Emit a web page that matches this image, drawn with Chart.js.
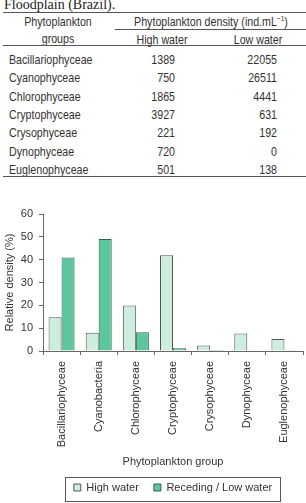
<!DOCTYPE html>
<html lang="en">
<head>
    <meta charset="UTF-8">
    <title>Phytoplankton density</title>
    <script src="https://cdn.jsdelivr.net/npm/chart.js@4"></script>
    <style>
        html, body {
            margin: 0;
            padding: 0;
            background: #fff;
        }
        body {
            width: 306px;
            height: 503px;
            position: relative;
            overflow: hidden;
            font-family: 'Liberation Sans', Arial, sans-serif;
            font-size: 13px;
            color: #333;
        }
        .caption {
            position: absolute;
            left: 4px;
            top: -2px;
            font-family: 'Liberation Serif', serif;
            font-size: 14px;
            line-height: 14px;
            color: #222;
            white-space: nowrap;
        }
        .rule {
            position: absolute;
            height: 1px;
            background: #555;
        }
        /* narrow look of the original type: squeeze the text horizontally */
        .cell {
            position: absolute;
            line-height: 14px;
            height: 14px;
            white-space: nowrap;
            transform-origin: left center;
            transform: scaleX(0.82);
        }
        .center {
            transform-origin: center center;
            transform: translateX(-50%) scaleX(0.82);
        }
        .right {
            transform-origin: right center;
            transform: translateX(-100%) scaleX(0.82);
        }
        #chart {
            position: absolute;
            left: 0;
            top: 190px;
        }
    </style>
</head>
<body>
    <div class="caption">Floodplain (Brazil).</div>
    <div class="rule" style="left:3px; top:12px; width:303px;"></div>
    <div class="cell center" style="left:58px; top:15px;">Phytoplankton</div>
    <div class="cell center" style="left:58px; top:32px;">groups</div>
    <div class="cell center" style="left:211px; top:15px;">Phytoplankton density (ind.mL<sup style="font-size:8px; line-height:0;">−1</sup>)</div>
    <div class="rule" style="left:115px; top:29px; width:191px;"></div>
    <div class="cell center" style="left:162px; top:33px;">High water</div>
    <div class="cell center" style="left:258px; top:33px;">Low water</div>
    <div class="rule" style="left:3px; top:45px; width:303px;"></div>
    <div id="rows"></div>
    <div class="rule" style="left:3px; top:176px; width:303px;"></div>

    <canvas id="chart" width="306" height="313"></canvas>

    <script>
        // table data
        const tableGroups = ['Bacillariophyceae', 'Cyanophyceae', 'Chlorophyceae', 'Cryptophyceae', 'Crysophyceae', 'Dynophyceae', 'Euglenophyceae'];
        const highDensity = [1389, 750, 1865, 3927, 221, 720, 501];
        const lowDensity = [22055, 26511, 4441, 631, 192, 0, 138];

        // chart data (relative density, %)
        const chartGroups = ['Bacillariophyceae', 'Cyanobacteria', 'Chlorophyceae', 'Cryptophyceae', 'Crysophyceae', 'Dynophyceae', 'Euglenophyceae'];
        const highWater = [14.8, 8.0, 19.9, 41.9, 2.4, 7.7, 5.3];
        const lowWater = [40.9, 49.1, 8.2, 1.2, 0.4, 0, 0.3];
        const seriesNames = ['High water', 'Receding / Low water'];

        const TEXT = '#333';

        // build the table rows
        const rows = document.getElementById('rows');
        tableGroups.forEach((g, i) => {
            const top = 53 + i * 18.3;
            rows.insertAdjacentHTML('beforeend',
                `<div class="cell" style="left:9px; top:${top}px;">${g}</div>` +
                `<div class="cell right" style="left:175px; top:${top}px;">${highDensity[i]}</div>` +
                `<div class="cell right" style="left:277px; top:${top}px;">${lowDensity[i]}</div>`);
        });

        // frame around the legend items
        const legendFrame = {
            id: 'legendFrame',
            afterDraw(chart) {
                const boxes = chart.legend && chart.legend.legendHitBoxes;
                if (!boxes || !boxes.length) return;
                const ctx = chart.ctx;
                const first = boxes[0];
                const last = boxes[boxes.length - 1];
                const left = Math.round(first.left - 9) + 0.5;
                const right = Math.round(last.left + last.width + 8) + 0.5;
                const cy = first.top + first.height / 2;
                ctx.save();
                ctx.strokeStyle = '#555';
                ctx.lineWidth = 1;
                ctx.strokeRect(left, Math.round(cy - 11) + 0.5, right - left, 24);
                ctx.restore();
            }
        };

        Chart.defaults.font.family = "'Liberation Sans', Arial, sans-serif";
        Chart.defaults.font.size = 11;
        Chart.defaults.color = TEXT;

        new Chart(document.getElementById('chart'), {
            type: 'bar',
            data: {
                labels: chartGroups,
                datasets: [{
                    label: seriesNames[0],
                    data: highWater,
                    backgroundColor: '#cdeedd',
                    borderColor: '#555',
                    borderWidth: 1,
                    categoryPercentage: 0.7,
                    barPercentage: 1.0
                },
                {
                    label: seriesNames[1],
                    data: lowWater,
                    backgroundColor: '#5cc79d',
                    borderColor: '#2e5f50',
                    borderWidth: 1,
                    categoryPercentage: 0.7,
                    barPercentage: 1.0
                }]
            },
            options: {
                responsive: false,
                animation: false,
                layout: {
                    padding: { top: 24, right: 3, bottom: 0, left: 0 }
                },
                plugins: {
                    tooltip: { enabled: false },
                    legend: {
                        position: 'bottom',
                        fullSize: false,
                        labels: {
                            boxWidth: 7,
                            boxHeight: 7,
                            padding: 15,
                            color: TEXT
                        }
                    }
                },
                scales: {
                    x: {
                        afterFit(scale) { scale.height = 116; },
                        border: { color: '#666' },
                        grid: {
                            offset: true,
                            drawOnChartArea: false,
                            tickLength: 4,
                            color: '#666'
                        },
                        ticks: {
                            minRotation: 90,
                            maxRotation: 90,
                            autoSkip: false,
                            padding: 6,
                            color: TEXT
                        },
                        title: {
                            display: true,
                            text: 'Phytoplankton group',
                            color: TEXT,
                            font: { lineHeight: 1 },
                            padding: { top: 0, bottom: 0 }
                        }
                    },
                    y: {
                        min: 0,
                        max: 60,
                        afterFit(scale) { scale.width = 43; },
                        border: { color: '#666' },
                        grid: {
                            drawOnChartArea: false,
                            tickLength: 4,
                            color: '#666'
                        },
                        ticks: {
                            stepSize: 10,
                            autoSkip: false,
                            padding: 6,
                            color: TEXT
                        },
                        title: {
                            display: true,
                            text: 'Relative density (%)',
                            color: TEXT,
                            font: { lineHeight: 1 },
                            padding: { top: 4.5, bottom: 0 }
                        }
                    }
                }
            },
            plugins: [legendFrame]
        });
    </script>
</body>
</html>
